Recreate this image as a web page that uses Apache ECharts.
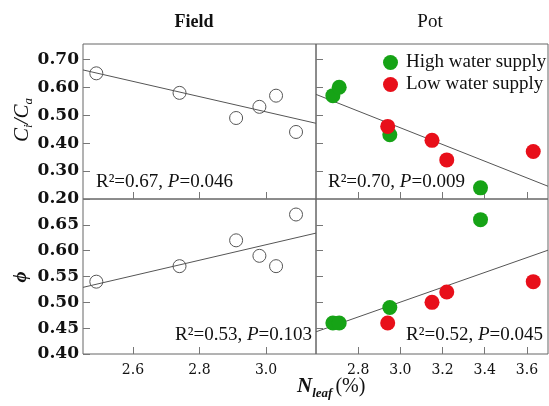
<!DOCTYPE html>
<html>
<head>
<meta charset="utf-8">
<script src="https://cdn.jsdelivr.net/npm/echarts@6/dist/echarts.min.js"></script>
<style>
  html, body { margin: 0; padding: 0; background: #fff; }
  #chart { width: 549px; height: 406px; }
</style>
</head>
<body>
<div id="chart"></div>
<script>
// leaf N (%) and responses
const fieldN = [2.49, 2.74, 2.91, 2.98, 3.03, 3.09];
const fieldCiCa = [0.65, 0.58, 0.49, 0.53, 0.57, 0.44];
const fieldPhi = [0.54, 0.57, 0.62, 0.59, 0.57, 0.67];

const highN = [2.68, 2.71, 2.95, 3.38];
const highCiCa = [0.57, 0.60, 0.43, 0.24];
const highPhi = [0.46, 0.46, 0.49, 0.66];

const lowN = [2.94, 3.15, 3.22, 3.63];
const lowCiCa = [0.46, 0.41, 0.34, 0.37];
const lowPhi = [0.46, 0.50, 0.52, 0.54];

// regression lines as drawn: [slope, intercept]
const fitFieldCiCa = [-0.273, 1.331];
const fitFieldPhi = [0.150, 0.1615];
const fitPotCiCa = [-0.299, 1.352];
const fitPotPhi = [0.1436, 0.0696];

// R2 and P for each panel
const statsFieldCiCa = ['0.67', '0.046'];
const statsPotCiCa = ['0.70', '0.009'];
const statsFieldPhi = ['0.53', '0.103'];
const statsPotPhi = ['0.52', '0.045'];

// axis ticks
const fieldXTicks = [2.6, 2.8, 3.0];
const potXTicks = [2.8, 3.0, 3.2, 3.4, 3.6];
const ciTicks = [0.2, 0.3, 0.4, 0.5, 0.6, 0.7];
const phiTicks = [0.40, 0.45, 0.50, 0.55, 0.60, 0.65];

const fieldRange = [2.45, 3.15];
const potRange = [2.6, 3.7];
const ciRange = [0.2, 0.755];
const phiRange = [0.4, 0.7];

const green = '#16a316';
const red = '#e80f1a';
const serif = 'Liberation Serif';

const zip = (xs, ys) => xs.map((x, i) => [x, ys[i]]);
const fitLine = (f, r) => r.map(x => [x, f[1] + f[0] * x]);

const tick = values => ({
  show: true, inside: true, length: 7, customValues: values,
  lineStyle: { color: '#777', width: 1 }
});

function xAxis(grid, range, ticks, showLabel) {
  return {
    type: 'value', gridIndex: grid, min: range[0], max: range[1],
    splitLine: { show: false }, axisLine: { show: false },
    axisTick: tick(ticks),
    axisLabel: {
      show: showLabel, customValues: ticks, margin: 9,
      fontFamily: 'DejaVu Serif', fontSize: 14, color: '#111',
      formatter: v => v.toFixed(1)
    }
  };
}

function yAxis(grid, range, ticks, showLabel) {
  return {
    type: 'value', gridIndex: grid, min: range[0], max: range[1],
    splitLine: { show: false }, axisLine: { show: false },
    axisTick: tick(ticks),
    axisLabel: {
      show: showLabel, customValues: ticks, margin: 4,
      fontFamily: 'DejaVu Serif', fontWeight: 'bold', fontSize: 17, color: '#111',
      formatter: v => v.toFixed(2)
    }
  };
}

const gridBox = { show: true, borderColor: '#666', borderWidth: 1, backgroundColor: 'transparent' };

const hollow = { color: 'rgba(0,0,0,0)', borderColor: '#555', borderWidth: 1, opacity: 1 };
const lineStyle = { color: '#555', width: 1 };

function fitSeries(x, y, f, r) {
  return {
    type: 'line', xAxisIndex: x, yAxisIndex: y, data: fitLine(f, r),
    symbol: 'none', silent: true, lineStyle: lineStyle, z: 2
  };
}

function statText(s, x, y, align) {
  return {
    type: 'text', x: x, y: y,
    style: {
      text: 'R²=' + s[0] + ', {i|P}=' + s[1],
      font: '19px "' + serif + '"', fill: '#111',
      align: align, verticalAlign: 'middle',
      rich: { i: { fontFamily: serif, fontSize: 19, fontStyle: 'italic', fill: '#111' } }
    }
  };
}

const chart = echarts.init(document.getElementById('chart'));

chart.setOption({
  animation: false,
  grid: [
    Object.assign({ left: 83, top: 44, width: 233, height: 155 }, gridBox),
    Object.assign({ left: 316, top: 44, width: 232, height: 155 }, gridBox),
    Object.assign({ left: 83, top: 199, width: 233, height: 155 }, gridBox),
    Object.assign({ left: 316, top: 199, width: 232, height: 155 }, gridBox)
  ],
  xAxis: [
    xAxis(0, fieldRange, fieldXTicks, false),
    xAxis(1, potRange, potXTicks, false),
    xAxis(2, fieldRange, fieldXTicks, true),
    xAxis(3, potRange, potXTicks, true)
  ],
  yAxis: [
    yAxis(0, ciRange, ciTicks, true),
    yAxis(1, ciRange, ciTicks.slice(1), false),
    yAxis(2, phiRange, phiTicks, true),
    yAxis(3, phiRange, phiTicks.slice(1), false)
  ],
  legend: {
    data: ['High water supply', 'Low water supply'],
    orient: 'vertical', left: 378, top: 48,
    icon: 'circle', itemWidth: 15, itemHeight: 15, itemGap: 3,
    textStyle: { fontFamily: serif, fontSize: 19, color: '#111', lineHeight: 19, padding: [0, 0, 0, 3] }
  },
  series: [
    fitSeries(0, 0, fitFieldCiCa, fieldRange),
    { type: 'scatter', xAxisIndex: 0, yAxisIndex: 0, data: zip(fieldN, fieldCiCa),
      symbolSize: 13, itemStyle: hollow, z: 3 },

    fitSeries(1, 1, fitPotCiCa, potRange),
    { name: 'High water supply', type: 'scatter', xAxisIndex: 1, yAxisIndex: 1,
      data: zip(highN, highCiCa), symbolSize: 15, itemStyle: { color: green, opacity: 1 }, z: 3 },
    { name: 'Low water supply', type: 'scatter', xAxisIndex: 1, yAxisIndex: 1,
      data: zip(lowN, lowCiCa), symbolSize: 15, itemStyle: { color: red, opacity: 1 }, z: 3 },

    fitSeries(2, 2, fitFieldPhi, fieldRange),
    { type: 'scatter', xAxisIndex: 2, yAxisIndex: 2, data: zip(fieldN, fieldPhi),
      symbolSize: 13, itemStyle: hollow, z: 3 },

    fitSeries(3, 3, fitPotPhi, potRange),
    { name: 'High water supply', type: 'scatter', xAxisIndex: 3, yAxisIndex: 3,
      data: zip(highN, highPhi), symbolSize: 15, itemStyle: { color: green, opacity: 1 }, z: 3 },
    { name: 'Low water supply', type: 'scatter', xAxisIndex: 3, yAxisIndex: 3,
      data: zip(lowN, lowPhi), symbolSize: 15, itemStyle: { color: red, opacity: 1 }, z: 3 }
  ],
  graphic: [
    { type: 'text', x: 194, y: 22,
      style: { text: 'Field', font: 'bold 18px "' + serif + '"', fill: '#111', align: 'center', verticalAlign: 'middle' } },
    { type: 'text', x: 430, y: 22,
      style: { text: 'Pot', font: '19px "' + serif + '"', fill: '#111', align: 'center', verticalAlign: 'middle' } },
    statText(statsFieldCiCa, 96, 182, 'left'),
    statText(statsPotCiCa, 328, 182, 'left'),
    statText(statsFieldPhi, 312, 335, 'right'),
    statText(statsPotPhi, 543, 335, 'right'),
    // y titles
    { type: 'text', x: 22, y: 120, rotation: Math.PI / 2,
      style: {
        text: '{c|C}{s|i}{c|/C}{s|a}', align: 'center', verticalAlign: 'middle',
        rich: {
          c: { fontFamily: serif, fontSize: 21, fontStyle: 'italic', fill: '#111', lineHeight: 26 },
          s: { fontFamily: serif, fontSize: 13, fontStyle: 'italic', fill: '#111', lineHeight: 13, verticalAlign: 'bottom' }
        }
      } },
    { type: 'text', x: 21, y: 277, rotation: Math.PI / 2,
      style: { text: 'ϕ', font: 'italic bold 19px "' + serif + '"', fill: '#111', align: 'center', verticalAlign: 'middle' } },
    // x title
    { type: 'text', x: 297, y: 387,
      style: {
        text: '{n|N}{s|leaf}{p|(%)}', align: 'left', verticalAlign: 'middle',
        rich: {
          n: { fontFamily: serif, fontSize: 21, fontStyle: 'italic', fontWeight: 'bold', fill: '#111', lineHeight: 26 },
          s: { fontFamily: serif, fontSize: 13, fontStyle: 'italic', fontWeight: 'bold', fill: '#111', lineHeight: 13, verticalAlign: 'bottom', padding: [0, 3, 0, 0] },
          p: { fontFamily: serif, fontSize: 20, fill: '#111', lineHeight: 26 }
        }
      } }
  ]
});
</script>
</body>
</html>
